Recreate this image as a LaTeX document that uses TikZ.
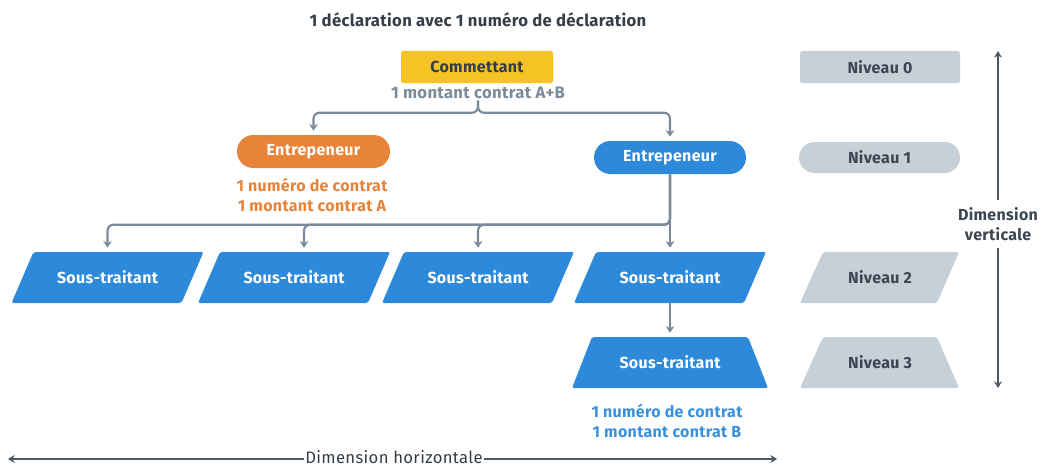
\documentclass[tikz,border=0pt]{standalone}
\usepackage{fontspec}
\setmainfont{Fira Sans}[LetterSpace=2.0]
\usetikzlibrary{arrows.meta,calc}
\definecolor{cyellow}{HTML}{F6C325}
\definecolor{corange}{HTML}{E8843A}
\definecolor{cblue}{HTML}{2D89D9}
\definecolor{cbluetxt}{HTML}{3A91DB}
\definecolor{cgray}{HTML}{C5D0D9}
\definecolor{cconn}{HTML}{7A8A9A}
\definecolor{cdim}{HTML}{4B5866}
\definecolor{cdark}{HTML}{333E48}
\definecolor{cniv}{HTML}{3B4651}
\definecolor{csub}{HTML}{7B8B9A}
\tikzset{
  lbl/.style={font=\bfseries\fontsize{12}{14}\selectfont},
  sub/.style={font=\bfseries\fontsize{12}{15}\selectfont, align=center},
  stnode/.style={lbl, text=white, minimum width=129pt, minimum height=38.25pt, inner sep=0pt},
  nivnode/.style={lbl, text=cniv, minimum width=102pt, minimum height=38.25pt, inner sep=0pt},
  conn/.style={draw=cconn, line width=1.6pt, rounded corners=4.5pt, -{Stealth[length=5pt,width=6.5pt]}, shorten >=3pt},
  dimarrow/.style={draw=cdim, line width=1.8pt, -{Stealth[length=5pt,width=6pt]}}
}
\newcommand\slbox[4]{%
  \fill[#3, rounded corners=1.5pt] (#1-96,303) -- (#1+74,303) -- (#1+96,252) -- (#1-74,252) -- cycle;
  \node[stnode] (#2) at (#1,277.5) {#4};}
\begin{document}
\begin{tikzpicture}[x=0.75pt,y=-0.75pt]
\useasboundingbox (0,0) rectangle (1041,467);
% title
\node[lbl, text=cdark, font=\bfseries\fontsize{12.5}{14}\selectfont] (title) at (478,20) {1 déclaration avec 1 numéro de déclaration};
% level 0
\node[lbl, fill=cyellow, text=cdark, minimum width=114pt, minimum height=24pt, rounded corners=1.5pt, inner sep=0pt] (comm) at (477,67) {Commettant};
\node[sub, text=csub, inner sep=1pt, font=\bfseries\fontsize{12.5}{15}\selectfont] (ab) at (478,93) {1 montant contrat A+B};
% level 1
\node[lbl, fill=corange, text=white, minimum width=114.75pt, minimum height=24.75pt, rounded corners=12.3pt, inner sep=0pt] (entA) at (313.5,151.5) {Entrepeneur};
\node[sub, text=corange, inner sep=0pt] (txtA) at (312,194.5) {1 numéro de contrat\\1 montant contrat A};
\node[lbl, fill=cblue, text=white, minimum width=114pt, minimum height=24.75pt, rounded corners=12.3pt, inner sep=0pt] (entB) at (670,157.5) {Entrepeneur};
% level 2
\slbox{107.5}{st1}{cblue}{Sous-traitant}
\slbox{294}{st2}{cblue}{Sous-traitant}
\slbox{478}{st3}{cblue}{Sous-traitant}
\slbox{670}{st4}{cblue}{Sous-traitant}
% level 3
\fill[cblue, rounded corners=1.5pt] (572,388) -- (768,388) -- (748,337) -- (592,337) -- cycle;
\node[stnode] (st5) at (670,362.5) {Sous-traitant};
\node[sub, text=cbluetxt, inner sep=0pt] (txtB) at (667,421) {1 numéro de contrat\\1 montant contrat B};
% niveaux
\node[lbl, fill=cgray, text=cniv, minimum width=120pt, minimum height=24pt, rounded corners=1.5pt, inner sep=0pt] (n0) at (880,67) {Niveau 0};
\node[lbl, fill=cgray, text=cniv, minimum width=120.75pt, minimum height=23.25pt, rounded corners=11.6pt, inner sep=0pt] (n1) at (879.5,157.5) {Niveau 1};
\fill[cgray, rounded corners=1.5pt] (800,303) -- (937,303) -- (959,252) -- (823,252) -- cycle;
\node[nivnode] (n2) at (880,277.5) {Niveau 2};
\fill[cgray, rounded corners=1.5pt] (800,388) -- (959,388) -- (937,337) -- (823,337) -- cycle;
\node[nivnode] (n3) at (880,362.5) {Niveau 3};
% connectors
\draw[conn] (ab.south) |- ($(entA.north)+(0,-22)$) -- (entA.north);
\draw[conn] (ab.south) |- ($(entB.north)+(0,-28)$) -- (entB.north);
\draw[conn] (entB.south) |- ($(st1.north)+(0,-27)$) -- (st1.north);
\draw[conn] (entB.south) |- ($(st2.north)+(10,-27)$) -- ($(st2.north)+(10,0)$);
\draw[conn] (entB.south) |- ($(st3.north)+(0,-27)$) -- (st3.north);
\draw[conn] (entB.south) -- (st4.north);
\draw[conn] (st4.south) -- (st5.north);
% vertical dimension
\coordinate (vtop) at (998,51);
\coordinate (vbot) at (998,388);
\node[lbl, text=cniv, align=center, font=\bfseries\fontsize{12}{14.5}\selectfont] (dimv) at (998,224) {Dimension\\verticale};
\draw[dimarrow] ([yshift=2pt]dimv.north) -- (vtop);
\draw[dimarrow] ([yshift=-2pt]dimv.south) -- (vbot);
% horizontal dimension
\coordinate (hl) at (8,459);
\coordinate (hr) at (777,459);
\node[font=\fontsize{12.5}{13}\selectfont, text=cdark, inner sep=0.5pt] (dimh) at (394,457) {Dimension horizontale};
\draw[dimarrow] (dimh.west |- hl) -- (hl);
\draw[dimarrow] (dimh.east |- hr) -- (hr);
\end{tikzpicture}
\end{document}
